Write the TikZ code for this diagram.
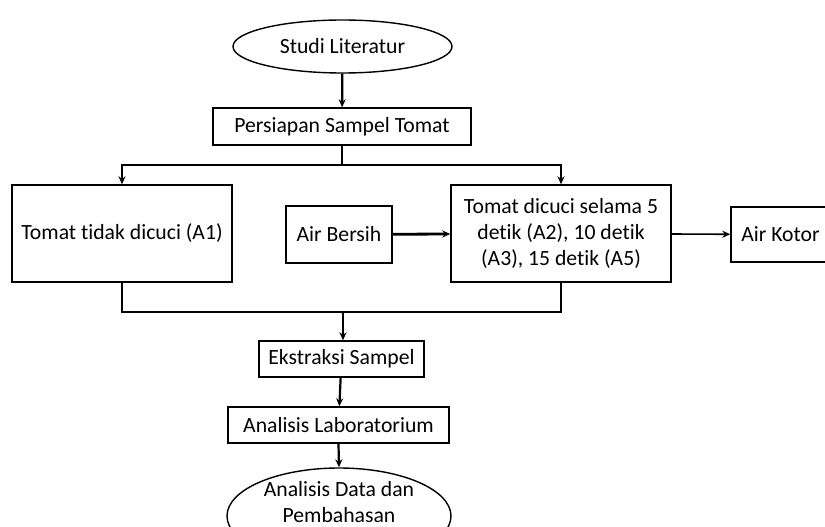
\documentclass[tikz,border=0pt]{standalone}
\usepackage{fontspec}
\setmainfont{Carlito}[Ligatures=NoCommon]
\usetikzlibrary{shapes.geometric,arrows.meta}
\begin{document}
\begin{tikzpicture}[x=1pt,y=-1pt,
  every node/.style={font=\fontsize{21.7pt}{26pt}\selectfont, inner sep=0pt, align=center},
  box/.style={draw, line width=1.4pt, minimum width=#1},
  oval/.style={draw, ellipse, line width=1.4pt},
  conn/.style={line width=2.2pt},
  arr/.style={line width=2.2pt, -{Stealth[length=8pt,width=7pt]}},
  thinarr/.style={line width=1.6pt, -{Stealth[length=8pt,width=7pt]}}]
\useasboundingbox (0,0) rectangle (825,527);
\clip (0,0) rectangle (825,527);
\node[oval, minimum width=219pt, minimum height=53pt] (lit) at (342.5,46.5) {Studi Literatur};
\node[box=258pt, minimum height=37pt] (prep) at (342,126.5) {Persiapan Sampel Tomat};
\node[box=220pt, minimum height=97pt] (a1) at (122,233.5) {Tomat tidak dicuci (A1)};
\node[box=106pt, minimum height=57pt] (bersih) at (339,234.5) {Air Bersih};
\node[box=220pt, minimum height=97pt] (a2) at (561,233.5) {Tomat dicuci selama 5\\detik (A2), 10 detik\\(A3), 15 detik (A5)};
\node[box=99pt, minimum height=55pt] (kotor) at (780.5,234.5) {Air Kotor};
\node[box=165pt, minimum height=36pt] (eks) at (341.5,359) {Ekstraksi Sampel};
\node[box=221pt, minimum height=36pt] (lab) at (338.5,425) {Analisis Laboratorium};
\node[oval, minimum width=224pt, minimum height=96pt] (data) at (339,516) {};
\node (datatxt) at (339,502) {Analisis Data dan\\Pembahasan};
\coordinate (split) at (prep.south |- 0,165);
\coordinate (join) at (343,312);
\draw[arr] (lit) -- (prep);
\draw[conn] (prep.south) -- (split);
\draw[arr] (split) -| (a1.north);
\draw[arr] (split) -| (a2.north);
\draw[line width=2.8pt, -{Stealth[length=8pt,width=7pt]}] (bersih) -- (a2);
\draw[thinarr] (a2) -- (kotor);
\draw[conn] (a1.south) |- (join) -| (a2.south);
\draw[arr] (join) -- (eks.north -| join);
\draw[arr] (eks) -- (lab);
\draw[arr] (lab.south) -- (data.north);
\end{tikzpicture}
\end{document}
